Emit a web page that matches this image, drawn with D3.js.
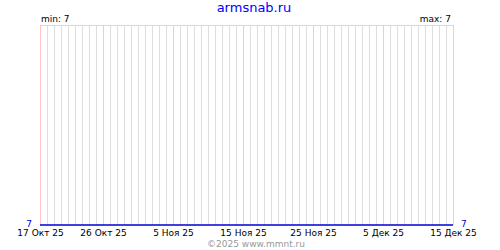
<!DOCTYPE html>
<html>
<head>
<meta charset="utf-8">
<script src="https://cdn.jsdelivr.net/npm/d3@7"></script>
<style>
  body { margin: 0; background: #fff; }
  text { font-family: "DejaVu Sans", sans-serif; }
</style>
</head>
<body>
<div id="grafico"></div>
<script>
// dados: uma medida por dia, 17 Out 2025 .. 15 Dez 2025
const startDate = "2025-10-17";
const endDate = "2025-12-15";
const values = [
  7, 7, 7, 7, 7, 7, 7, 7, 7, 7, 7, 7, 7, 7, 7,
  7, 7, 7, 7, 7, 7, 7, 7, 7, 7, 7, 7, 7, 7, 7,
  7, 7, 7, 7, 7, 7, 7, 7, 7, 7, 7, 7, 7, 7, 7,
  7, 7, 7, 7, 7, 7, 7, 7, 7, 7, 7, 7, 7, 7, 7
];
const tickDates = ["2025-10-17", "2025-10-26", "2025-11-05", "2025-11-15", "2025-11-25", "2025-12-05", "2025-12-15"];
const tickLabels = ["17 Окт 25", "26 Окт 25", "5 Ноя 25", "15 Ноя 25", "25 Ноя 25", "5 Дек 25", "15 Дек 25"];
const title = "armsnab.ru";
const footer = "©2025 www.mmnt.ru";

const W = 500, H = 250;
const margin = { top: 25, right: 47, bottom: 25, left: 40 };

const parse = d3.utcParse("%Y-%m-%d");
const days = d3.utcDay.range(parse(startDate), d3.utcDay.offset(parse(endDate), 1));
const data = days.map((d, i) => ({ date: d, value: values[i] }));

const svg = d3.select("#grafico")
  .append("svg")
    .attr("width", W)
    .attr("height", H);

const x = d3.scaleUtc()
  .domain([days[0], days[days.length - 1]])
  .range([margin.left, W - margin.right]);

const vMin = d3.min(values), vMax = d3.max(values);
const y = d3.scaleLinear()
  .domain(vMin === vMax ? [vMin, vMin + 1] : [vMin, vMax])
  .range([H - margin.bottom, margin.top]);

// grade diária
svg.append("g")
  .selectAll("line")
  .data(days)
  .enter()
  .append("line")
    .attr("x1", d => Math.round(x(d)) + 0.5)
    .attr("x2", d => Math.round(x(d)) + 0.5)
    .attr("y1", margin.top)
    .attr("y2", H - margin.bottom)
    .attr("stroke", "#dedede");

// linhas das datas marcadas
const ticks = tickDates.map(parse);
svg.append("g")
  .selectAll("line")
  .data(ticks)
  .enter()
  .append("line")
    .attr("x1", d => Math.round(x(d)) + 0.5)
    .attr("x2", d => Math.round(x(d)) + 0.5)
    .attr("y1", margin.top)
    .attr("y2", H - margin.bottom)
    .attr("stroke", "#ffc4c4");

// borda de cima
svg.append("line")
  .attr("x1", margin.left)
  .attr("x2", W - margin.right + 1)
  .attr("y1", margin.top + 0.5)
  .attr("y2", margin.top + 0.5)
  .attr("stroke", "#d8d8d8");

// linha dos dados
svg.append("path")
  .datum(data)
  .attr("fill", "none")
  .attr("stroke", "#0000d0")
  .attr("stroke-width", 1.5)
  .attr("d", d3.line().x(d => x(d.date)).y(d => y(d.value)));

// eixo x
const xAxis = d3.axisBottom(x)
  .tickValues(ticks)
  .tickSize(0)
  .tickFormat((d, i) => tickLabels[i]);
const gx = svg.append("g")
  .attr("transform", "translate(0," + (H - margin.bottom) + ")")
  .call(xAxis);
gx.select(".domain").remove();
gx.selectAll("text")
  .attr("dy", null)
  .attr("y", 11)
  .attr("font-family", "DejaVu Sans")
  .attr("font-size", "9px")
  .attr("fill", "#000");

// valores nas pontas
svg.append("text")
  .attr("x", margin.left - 8)
  .attr("y", y(values[0]) + 2)
  .attr("text-anchor", "end")
  .attr("font-size", "9px")
  .attr("fill", "#0000d0")
  .text(values[0]);
svg.append("text")
  .attr("x", W - margin.right + 8)
  .attr("y", y(values[values.length - 1]) + 2)
  .attr("font-size", "9px")
  .attr("fill", "#0000d0")
  .text(values[values.length - 1]);

// min / max
svg.append("text")
  .attr("x", margin.left + 1)
  .attr("y", 22)
  .attr("font-size", "9px")
  .text("min: " + vMin);
svg.append("text")
  .attr("x", W - margin.right - 2)
  .attr("y", 22)
  .attr("text-anchor", "end")
  .attr("font-size", "9px")
  .text("max: " + vMax);

// título e rodapé
svg.append("text")
  .attr("x", 254)
  .attr("y", 12)
  .attr("text-anchor", "middle")
  .attr("font-size", "13px")
  .attr("fill", "#0000ff")
  .text(title);
svg.append("text")
  .attr("x", 256)
  .attr("y", 247)
  .attr("text-anchor", "middle")
  .attr("font-size", "9px")
  .attr("fill", "#999")
  .text(footer);
</script>
</body>
</html>
